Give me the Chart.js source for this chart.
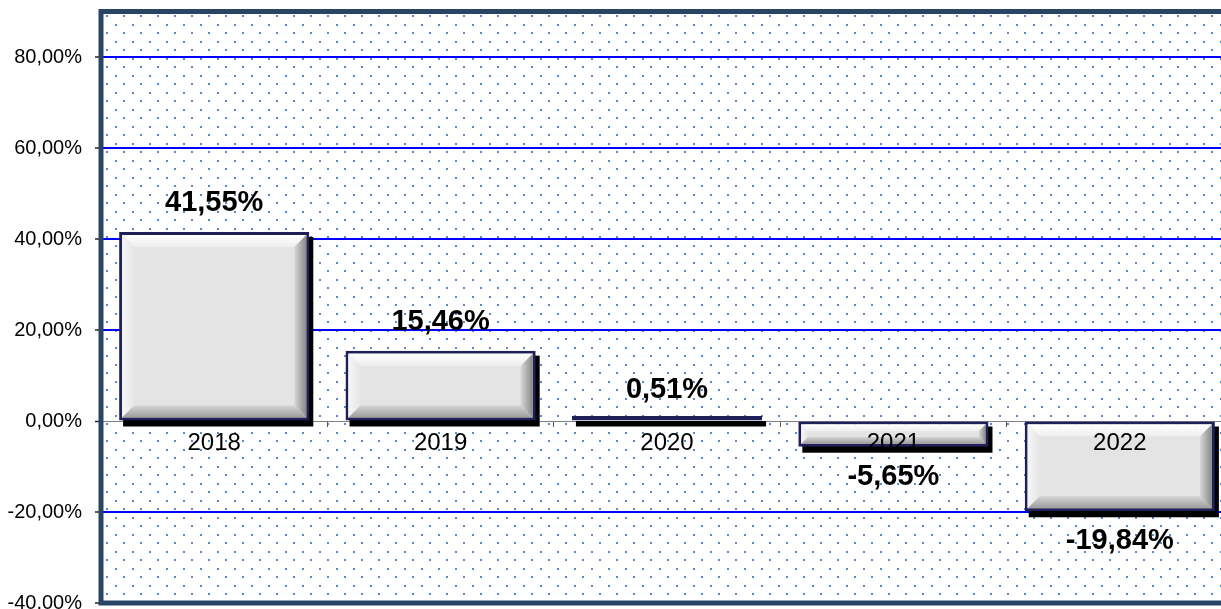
<!DOCTYPE html>
<html>
<head>
<meta charset="utf-8">
<script src="https://cdn.jsdelivr.net/npm/chart.js@4"></script>
<style>
  html, body { margin: 0; padding: 0; background: #fff; overflow: hidden; }
  #wrap { width: 1240px; height: 609px; }
</style>
</head>
<body>
<div id="wrap"><canvas id="chart" width="1240" height="609"></canvas></div>
<script>
// ===== data =====
const years = ['2018', '2019', '2020', '2021', '2022'];
const returns = [41.55, 15.46, 0.51, -5.65, -19.84];
const yMin = -40;
const yMax = 90;
const yStep = 20;

const FONT = "'Liberation Sans', Arial, sans-serif";
const pct = v => v.toFixed(2).replace('.', ',') + '%';

// dotted fill of the plot area
function dotPattern(ctx) {
  const t = document.createElement('canvas');
  t.width = 17; t.height = 17;
  const c = t.getContext('2d');
  c.fillStyle = '#5a88cc';
  c.fillRect(4, 15, 2, 2);
  c.fillRect(13, 7, 2, 2);
  return ctx.createPattern(t, 'repeat');
}

const plotBackground = {
  id: 'plotBackground',
  beforeDraw(chart) {
    const { ctx, chartArea: a } = chart;
    ctx.save();
    ctx.fillStyle = dotPattern(ctx);
    ctx.fillRect(a.left, a.top, a.right - a.left, a.bottom - a.top);
    ctx.restore();
  },
  afterDraw(chart) {
    const { ctx, chartArea: a } = chart;
    ctx.save();
    ctx.strokeStyle = '#2a4466';
    ctx.lineWidth = 5;
    ctx.strokeRect(a.left, a.top, a.right - a.left, a.bottom - a.top);
    ctx.restore();
  }
};

// shadow, bevel and value labels for the bars
const barStyle = {
  id: 'barStyle',
  beforeDatasetsDraw(chart) {
    const ctx = chart.ctx;
    ctx.save();
    ctx.fillStyle = '#000';
    chart.getDatasetMeta(0).data.forEach(bar => {
      const { x, y, base, width } = bar.getProps(['x', 'y', 'base', 'width'], true);
      const top = Math.min(y, base), bottom = Math.max(y, base);
      ctx.fillRect(x - width / 2 + 4, top + 5, width, bottom - top + 1);
    });
    ctx.restore();
  },
  afterDatasetsDraw(chart) {
    const ctx = chart.ctx;
    const yScale = chart.scales.y;
    ctx.save();
    chart.getDatasetMeta(0).data.forEach((bar, i) => {
      const { x, y, base, width } = bar.getProps(['x', 'y', 'base', 'width'], true);
      const L = x - width / 2 + 3, R = x + width / 2 - 3;
      const T = Math.min(y, base) + 3, B = Math.max(y, base) - 3;
      const d = Math.min(12, (B - T) * 0.35, (R - L) * 0.35);
      if (d > 1.5) {
        const face = (pts, g0, g1, c0, c1) => {
          const g = ctx.createLinearGradient(g0[0], g0[1], g1[0], g1[1]);
          g.addColorStop(0, c0);
          g.addColorStop(1, c1);
          ctx.fillStyle = g;
          ctx.beginPath();
          pts.forEach((p, k) => k ? ctx.lineTo(p[0], p[1]) : ctx.moveTo(p[0], p[1]));
          ctx.closePath();
          ctx.fill();
        };
        face([[L, T], [R, T], [R - d, T + d], [L + d, T + d]], [0, T], [0, T + d], '#ffffff', '#eeeeee');
        face([[L, T], [L + d, T + d], [L + d, B - d], [L, B]], [L, 0], [L + d, 0], '#f6f6f6', '#e6e6e6');
        face([[R, T], [R, B], [R - d, B - d], [R - d, T + d]], [R - d, 0], [R, 0], '#d8d8d8', '#888888');
        face([[L, B], [R, B], [R - d, B - d], [L + d, B - d]], [0, B - d], [0, B], '#d4d4d4', '#9c9c9c');
      }
      const v = returns[i];
      const py = yScale.getPixelForValue(v);
      ctx.fillStyle = '#000';
      ctx.font = 'bold 29px ' + FONT;
      ctx.textAlign = 'center';
      ctx.textBaseline = 'middle';
      ctx.fillText(pct(v), x, v >= 0 ? py - 29 : py + 30);
    });
    ctx.restore();
  }
};

new Chart(document.getElementById('chart'), {
  type: 'bar',
  data: {
    labels: years,
    datasets: [{
      data: returns,
      backgroundColor: '#e4e4e4',
      borderColor: '#1f1f5a',
      borderWidth: 3,
      borderSkipped: false,
      minBarLength: 5,
      barPercentage: 0.84,
      categoryPercentage: 1
    }]
  },
  options: {
    responsive: false,
    animation: false,
    layout: { padding: { top: 11.5, right: 7, bottom: 6, left: 0 } },
    plugins: { legend: { display: false }, tooltip: { enabled: false } },
    scales: {
      x: {
        position: { y: 0 },
        offset: true,
        border: { display: false },
        grid: {
          display: true, offset: true, drawOnChartArea: false, drawTicks: true,
          tickLength: 6, color: '#555'
        },
        ticks: { z: 1, color: '#000', font: { family: FONT, size: 24 }, padding: 2 },
        afterFit: s => { s.paddingLeft = 0; s.paddingRight = 0; }
      },
      y: {
        min: yMin,
        max: yMax,
        border: { display: false },
        grid: {
          color: c => c.tick.value === 0 ? '#808080' : (c.tick.value === yMin ? 'rgba(0,0,0,0)' : '#0000ff'),
          lineWidth: c => c.tick.value === 0 ? 1 : 2,
          tickColor: '#222',
          tickWidth: 1.5,
          tickLength: 6
        },
        ticks: {
          stepSize: yStep,
          color: '#000',
          padding: 13,
          font: { family: FONT, size: 20 },
          callback: v => (v % yStep === 0 ? pct(v) : null)
        },
        afterFit: s => { s.width = 101; s.paddingTop = 0; s.paddingBottom = 0; }
      }
    }
  },
  plugins: [plotBackground, barStyle]
});
</script>
</body>
</html>
